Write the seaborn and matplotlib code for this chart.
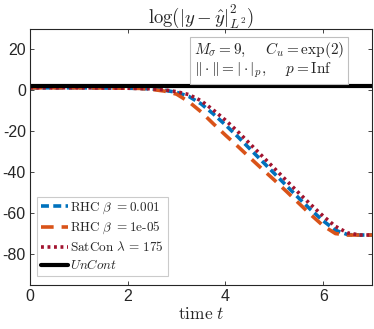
import numpy as np
import pandas as pd
import matplotlib
matplotlib.use("Agg")
import matplotlib.pyplot as plt
import seaborn as sns

# data
t = [0.0, 0.5, 1.0, 1.5, 2.0, 2.25, 2.5, 2.75, 3.0, 3.25, 3.5, 3.75, 4.0, 4.25,
     4.5, 4.75, 5.0, 5.25, 5.5, 5.75, 6.0, 6.25, 6.5, 6.75, 7.0]
rhc_1e3 = [1.3, 1.3, 1.3, 1.2, 1.1, 1.0, 0.7, 0.1, -0.9, -2.9, -6.5, -11.4, -16.8, -22.5,
           -28.5, -34.5, -40.5, -46.5, -52.5, -58.3, -63.6, -68.2, -70.3, -70.5, -70.5]
rhc_1e5 = [1.3, 1.3, 1.3, 1.2, 1.1, 1.0, 0.5, -0.3, -1.8, -5.5, -10.4, -16.2, -21.8, -27.2,
           -32.8, -38.3, -43.7, -49.3, -55.0, -60.7, -66.0, -69.8, -70.5, -70.5, -70.5]
satcon = [1.3, 1.3, 1.3, 1.2, 1.1, 1.0, 0.8, 0.3, -0.6, -2.0, -5.0, -9.5, -14.5, -20.0,
          -26.0, -32.0, -38.0, -44.0, -50.0, -55.8, -61.3, -66.3, -69.5, -70.5, -70.5]
uncont = [2.3] * len(t)

labels = [r'$\mathrm{RHC}\ \beta\ {=}0.001$', r'$\mathrm{RHC}\ \beta\ {=}1\mathrm{e}\text{-}05$',
          r'$\mathrm{SatCon}\ \lambda\, =\, 175$', r'$UnCont$']

sns.set_theme(style="ticks")
plt.rcParams['font.family'] = ['Liberation Sans', 'DejaVu Sans']
plt.rcParams['mathtext.fontset'] = 'cm'
plt.rcParams['axes.unicode_minus'] = False
plt.rcParams['xtick.direction'] = 'in'
plt.rcParams['ytick.direction'] = 'in'

fig, ax = plt.subplots(figsize=(3.74, 3.29), dpi=100)

sns.lineplot(x=t, y=rhc_1e3, ax=ax, color='#0072BD', lw=2.6, label=labels[0]).lines[-1].set_dashes([2.2, 1.2])
sns.lineplot(x=t, y=rhc_1e5, ax=ax, color='#D95319', lw=2.6, label=labels[1]).lines[-1].set_dashes([3.5, 2.2])
sns.lineplot(x=t, y=satcon, ax=ax, color='#A2142F', lw=2.6, label=labels[2]).lines[-1].set_dashes([0.8, 1.0])
sns.lineplot(x=t, y=uncont, ax=ax, color='black', lw=3, label=labels[3])

ax.set_xlim(0, 7)
ax.set_ylim(-95, 30)
ax.set_xticks([0, 2, 4, 6])
ax.set_yticks([-80, -60, -40, -20, 0, 20])
ax.tick_params(labelsize=11.5, length=3, width=0.6, top=True, right=True, color='#262626', pad=3)
for s in ax.spines.values():
    s.set_linewidth(0.8)
    s.set_color('#262626')

ax.set_title(r'$\log(|y-\hat{y}|^2_{L^2})$', fontsize=13.5, pad=4)
ax.set_xlabel(r'$\mathrm{time}\ t$', fontsize=12.5, labelpad=1)
ax.set_ylabel('')

leg = ax.legend(loc='lower left', bbox_to_anchor=(0.022, 0.035), fontsize=9.5,
                handlelength=2.0, handletextpad=0.2, labelspacing=0.3, borderaxespad=0,
                borderpad=0.3, frameon=True, fancybox=False, edgecolor='#bfbfbf')
leg.get_frame().set_linewidth(0.8)

ax.text(0.48, 0.955, r'$M_\sigma = 9,\quad\ C_u = \exp(2)$' + '\n' +
        r'$\|\cdot\| = |\cdot|_p,\quad\ p = \mathrm{Inf}$',
        transform=ax.transAxes, fontsize=11, va='top', ha='left', linespacing=1.0,
        bbox=dict(boxstyle='square,pad=0.25', fc='white', ec='#bfbfbf', lw=0.8))

fig.subplots_adjust(left=0.08, right=0.995, top=0.912, bottom=0.133)
fig.savefig('out.png', dpi=100)
